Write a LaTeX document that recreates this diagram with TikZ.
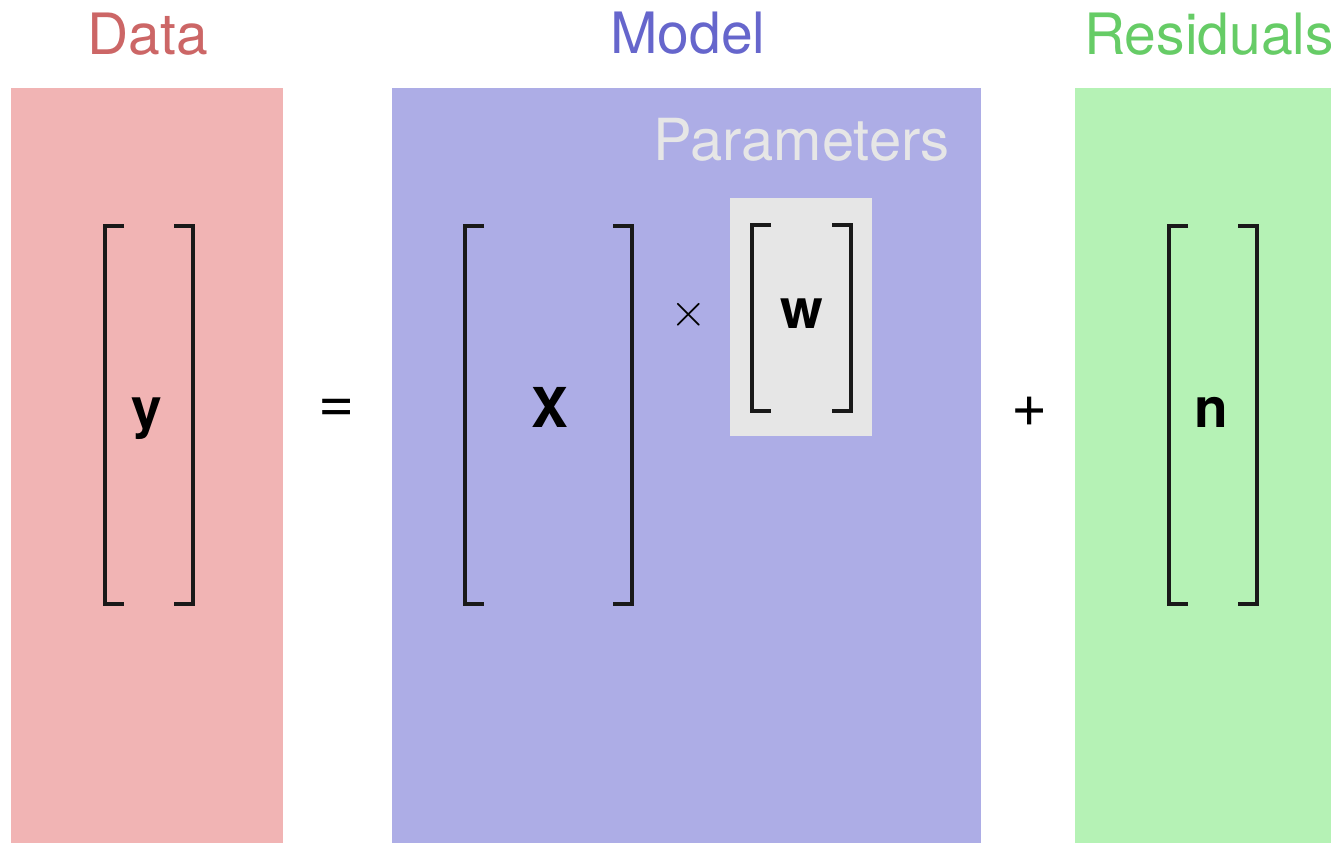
\documentclass[tikz,border=0pt]{standalone}
\usepackage{fontspec}
\setmainfont{TeX Gyre Heros}
\usetikzlibrary{calc}
\usepackage{xcolor}
\definecolor{DataPink}{HTML}{F1B4B4}
\definecolor{ModelBlue}{HTML}{ADADE6}
\definecolor{ResidGreen}{HTML}{B5F2B5}
\definecolor{DataText}{HTML}{CC6666}
\definecolor{ModelText}{HTML}{6666CC}
\definecolor{ResidText}{HTML}{66CC66}
\definecolor{ParamGrey}{HTML}{E6E6E6}
\tikzset{
  panel/.style={draw=none, inner sep=0pt, outer sep=0pt, anchor=north west},
  title/.style={anchor=base, inner sep=0pt, font=\fontsize{57}{60}\selectfont},
  mat/.style={inner sep=0pt, outer sep=0pt},
  brk/.style={line width=3.6pt, line join=miter, black!90},
  symbol/.style={anchor=base, inner sep=0pt, font=\bfseries\fontsize{55}{60}\selectfont},
  op/.style={inner sep=0pt, font=\fontsize{62}{66}\selectfont}
}
\newcommand\matbrackets[1]{%
  \draw[brk] ($(#1.north west)+(19,0)$) -- (#1.north west) -- (#1.south west) -- ++(19,0);
  \draw[brk] ($(#1.north east)+(-19,0)$) -- (#1.north east) -- (#1.south east) -- ++(-19,0);}

\begin{document}
\begin{tikzpicture}[x=1pt,y=-1pt]
  \useasboundingbox[fill=white] (0,0) rectangle (1331,843);

  % panels
  \node[panel, fill=DataPink, minimum width=272, minimum height=760] (datapanel) at (11,88) {};
  \node[panel, fill=ModelBlue, minimum width=589, minimum height=760] (modelpanel) at (392,88) {};
  \node[panel, fill=ResidGreen, minimum width=260, minimum height=760] (residpanel) at (1075,88) {};
  \node[panel, fill=ParamGrey, minimum width=142, minimum height=238] (wbox) at (730,198) {};

  % titles
  \node[title, text=DataText] (datatitle) at (148,55) {Data};
  \node[title, text=ModelText] (modeltitle) at (688,54) {Model};
  \node[title, text=ResidText, anchor=base west] (residtitle) at (1084,55) {Residuals};
  \node[title, text=ParamGrey, anchor=base east, font=\fontsize{58}{60}\selectfont] (paramtitle) at (950,160) {Parameters};

  % matrices
  \node[mat, minimum width=88, minimum height=378] (ymat) at (149,415) {};
  \node[mat, minimum width=167, minimum height=378] (Xmat) at (548.5,415) {};
  \node[mat, minimum width=99, minimum height=186] (wmat) at (801.5,318) {};
  \node[mat, minimum width=88, minimum height=378] (nmat) at (1213,415) {};
  \matbrackets{ymat}
  \matbrackets{Xmat}
  \matbrackets{wmat}
  \matbrackets{nmat}

  \node[symbol] (ylabel) at (147,427) {y};
  \node[symbol] (Xlabel) at (550,427) {X};
  \node[symbol] (wlabel) at (802,328) {w};
  \node[symbol] (nlabel) at (1211,427) {n};

  % operators
  \node[op] (equals) at (337,411) {=};
  \node[inner sep=0pt] (times) at (689,315) {\scalebox{4.7}{$\times$}};
  \node[op] (plus) at (1030,412) {+};
\end{tikzpicture}
\end{document}
